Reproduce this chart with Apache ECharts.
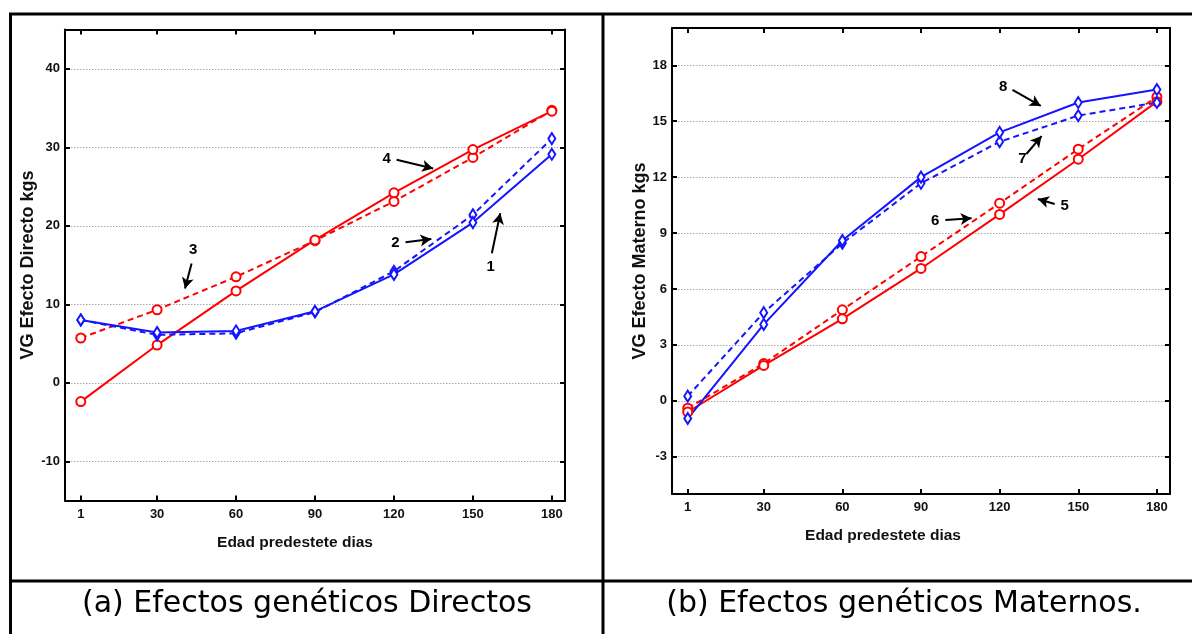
<!DOCTYPE html>
<html>
<head>
<meta charset="utf-8">
<script src="https://cdn.jsdelivr.net/npm/echarts@6/dist/echarts.min.js"></script>
<style>
html,body{margin:0;padding:0;background:#fff;}
#chart{width:1192px;height:634px;}
</style>
</head>
<body>
<div id="chart"></div>
<script>
// ---- data ----
const days = [1, 30, 60, 90, 120, 150, 180];
const xTickValues = [1, 30, 60, 90, 120, 150, 180];
const directYTicks = [-10, 0, 10, 20, 30, 40];
const maternalYTicks = [-3, 0, 3, 6, 9, 12, 15, 18];

// (a) Directos
const direct1 = [8.0, 6.4, 6.6, 9.1, 13.8, 20.4, 29.1];   // blue solid
const direct2 = [8.0, 6.1, 6.3, 9.0, 14.2, 21.4, 31.1];   // blue dashed
const direct3 = [5.7, 9.3, 13.5, 18.1, 23.1, 28.7, 34.7]; // red dashed
const direct4 = [-2.4, 4.8, 11.7, 18.2, 24.2, 29.7, 34.6]; // red solid

// (b) Maternos
const maternal5 = [-0.6, 1.9, 4.4, 7.1, 10.0, 12.96, 16.05]; // red solid
const maternal6 = [-0.4, 2.0, 4.88, 7.74, 10.6, 13.5, 16.3]; // red dashed
const maternal7 = [0.25, 4.73, 8.45, 11.67, 13.9, 15.3, 16.0]; // blue dashed
const maternal8 = [-0.95, 4.1, 8.6, 12.0, 14.4, 16.0, 16.7]; // blue solid

// annotation arrows (label, tail, head) in data units
const directArrows = [
  ['1', [157.2, 16.5], [160.4, 21.6]],
  ['2', [124.4, 17.9], [134.2, 18.3]],
  ['3', [43.1, 15.2], [40.6, 12.0]],
  ['4', [121, 28.4], [134.9, 27.3]]
];
const maternalArrows = [
  ['5', [141, 10.56], [134.6, 10.83]],
  ['6', [99.3, 9.7], [109.3, 9.8]],
  ['7', [130.2, 13.24], [136, 14.2]],
  ['8', [124.9, 16.68], [135.7, 15.82]]
];

const xTitle = 'Edad predestete dias';
const yTitleA = 'VG Efecto Directo kgs';
const yTitleB = 'VG Efecto Materno kgs';
const captionA = '(a) Efectos genéticos Directos';
const captionB = '(b) Efectos genéticos Maternos.';

// ---- styles ----
const RED = '#ff0000';
const BLUE = '#1414ff';
const tickFont = {fontFamily: 'Liberation Sans', fontWeight: 'bold', fontSize: 13, color: '#111'};

function pairs(vals) { return days.map((d, i) => [d, vals[i]]); }

function xAxes(gi) {
  const base = {
    type: 'value', gridIndex: gi, min: -5, max: 185,
    axisLine: {show: true, onZero: false, lineStyle: {color: '#000', width: 2}},
    splitLine: {show: false},
    axisTick: {show: true, inside: true, length: 5, lineStyle: {color: '#000', width: 2}, customValues: xTickValues}
  };
  return [
    Object.assign({}, base, {
      position: 'bottom',
      axisLabel: Object.assign({show: true, margin: 7, customValues: xTickValues}, tickFont),
      name: xTitle, nameLocation: 'middle', nameGap: 34,
      nameTextStyle: {fontFamily: 'Liberation Sans', fontWeight: 'bold', fontSize: 15.5, color: '#111',
        padding: gi === 0 ? [0, 40, 0, 0] : [0, 76, 0, 0]}
    }),
    Object.assign({}, base, {position: 'top', axisLabel: {show: false, customValues: xTickValues}})
  ];
}

function yAxes(gi, min, max, ticks, title, gap) {
  const base = {
    type: 'value', gridIndex: gi, min: min, max: max,
    axisLine: {show: true, onZero: false, lineStyle: {color: '#000', width: 2}},
    axisTick: {show: true, inside: true, length: 5, lineStyle: {color: '#000', width: 2}, customValues: ticks}
  };
  return [
    Object.assign({}, base, {
      position: 'left',
      axisLabel: Object.assign({show: true, margin: 5, customValues: ticks}, tickFont),
      splitLine: {show: true, lineStyle: {color: '#aaa', width: 1, type: [1.5, 1.5]}},
      name: title, nameLocation: 'middle', nameGap: gap,
      nameTextStyle: {fontFamily: 'Liberation Sans', fontWeight: 'bold', fontSize: 18, color: '#111'}
    }),
    Object.assign({}, base, {position: 'right', axisLabel: {show: false, customValues: ticks}, splitLine: {show: false}})
  ];
}

function lineSeries(vals, color, dashed, symbol, xi, yi, arrows) {
  const s = {
    type: 'line', xAxisIndex: xi, yAxisIndex: yi,
    data: pairs(vals),
    symbol: symbol,
    symbolSize: symbol === 'diamond' ? [7, 11] : 9,
    showAllSymbol: true,
    lineStyle: {color: color, width: 2, type: dashed ? [6, 4] : 'solid'},
    itemStyle: {color: '#fff', borderColor: color, borderWidth: 2},
    z: 3
  };
  if (arrows) {
    s.markLine = {
      silent: true,
      symbol: ['none', 'arrow'],
      symbolSize: [9, 11],
      lineStyle: {color: '#000', width: 2, type: 'solid'},
      label: {show: true, position: 'start', distance: 6, color: '#000',
        fontFamily: 'Liberation Sans', fontWeight: 'bold', fontSize: 15,
        formatter: p => p.name},
      data: arrows.map(a => [{coord: a[1], name: a[0]}, {coord: a[2]}])
    };
  }
  return s;
}

const chart = echarts.init(document.getElementById('chart'), null, {renderer: 'canvas'});

const borderStyle = {stroke: '#000', lineWidth: 3};

chart.setOption({
  animation: false,
  backgroundColor: '#fff',
  grid: [
    {left: 65, top: 29.5, width: 500, height: 471},
    {left: 672, top: 28, width: 498, height: 466}
  ],
  xAxis: [].concat(xAxes(0), xAxes(1)),
  yAxis: [].concat(
    yAxes(0, -15, 45, directYTicks, yTitleA, 21),
    yAxes(1, -5, 20, maternalYTicks, yTitleB, 20)
  ),
  series: [
    lineSeries(direct3, RED, true, 'circle', 0, 0, null),
    lineSeries(direct4, RED, false, 'circle', 0, 0, null),
    lineSeries(direct2, BLUE, true, 'diamond', 0, 0, null),
    lineSeries(direct1, BLUE, false, 'diamond', 0, 0, directArrows),
    lineSeries(maternal6, RED, true, 'circle', 2, 2, null),
    lineSeries(maternal5, RED, false, 'circle', 2, 2, null),
    lineSeries(maternal7, BLUE, true, 'diamond', 2, 2, null),
    lineSeries(maternal8, BLUE, false, 'diamond', 2, 2, maternalArrows)
  ],
  graphic: [
    {type: 'line', shape: {x1: 9, y1: 14, x2: 1192, y2: 14}, style: borderStyle},
    {type: 'line', shape: {x1: 10.5, y1: 13, x2: 10.5, y2: 634}, style: borderStyle},
    {type: 'line', shape: {x1: 603, y1: 13, x2: 603, y2: 634}, style: borderStyle},
    {type: 'line', shape: {x1: 9, y1: 581, x2: 1192, y2: 581}, style: borderStyle},
    {type: 'text', x: 307, y: 604, style: {text: captionA, fill: '#000', font: '30px "DejaVu Sans"', textAlign: 'center', textVerticalAlign: 'middle'}},
    {type: 'text', x: 904, y: 604, style: {text: captionB, fill: '#000', font: '30px "DejaVu Sans"', textAlign: 'center', textVerticalAlign: 'middle'}}
  ]
});
</script>
</body>
</html>
